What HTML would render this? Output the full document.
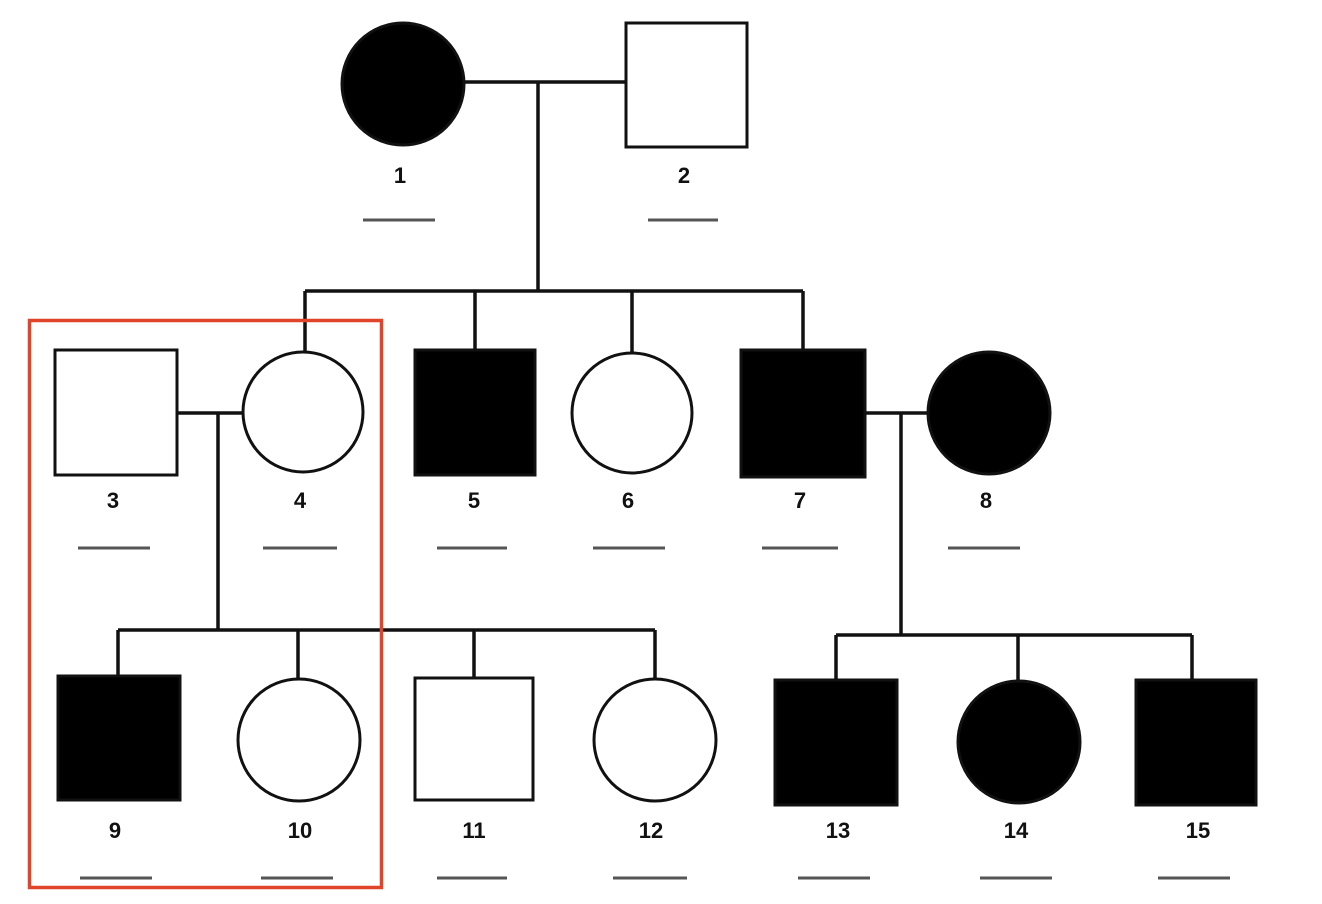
<!DOCTYPE html>
<html><head><style>html,body{margin:0;padding:0;background:#fff;}svg{display:block}</style></head>
<body>
<svg width="1322" height="904" viewBox="0 0 1322 904" xmlns="http://www.w3.org/2000/svg">
<rect x="0" y="0" width="1322" height="904" fill="#fff"/>
<g stroke="#111" stroke-width="3.5" fill="none">
<line x1="464" y1="82" x2="626" y2="82"/>
<line x1="538" y1="82" x2="538" y2="291"/>
<line x1="305" y1="291" x2="803" y2="291"/>
<line x1="305" y1="291" x2="305" y2="352"/>
<line x1="475" y1="291" x2="475" y2="352"/>
<line x1="632" y1="291" x2="632" y2="353"/>
<line x1="803" y1="291" x2="803" y2="352"/>
<line x1="177" y1="413" x2="243" y2="413"/>
<line x1="218" y1="413" x2="218" y2="630"/>
<line x1="865" y1="413" x2="928" y2="413"/>
<line x1="901" y1="413" x2="901" y2="635"/>
<line x1="118" y1="630" x2="655" y2="630"/>
<line x1="118" y1="630" x2="118" y2="677"/>
<line x1="298" y1="630" x2="298" y2="680"/>
<line x1="474" y1="630" x2="474" y2="679"/>
<line x1="655" y1="630" x2="655" y2="680"/>
<line x1="836" y1="635" x2="1192" y2="635"/>
<line x1="836" y1="635" x2="836" y2="681"/>
<line x1="1018" y1="635" x2="1018" y2="682"/>
<line x1="1192" y1="635" x2="1192" y2="681"/>
</g>
<g stroke="#111" stroke-width="3">
<circle cx="403" cy="84" r="61" fill="#000"/>
<rect x="626" y="23" width="121" height="124" fill="#fff"/>
<rect x="55" y="350" width="122" height="125" fill="#fff"/>
<circle cx="303" cy="412" r="60" fill="#fff"/>
<rect x="415" y="350" width="120" height="125" fill="#000"/>
<circle cx="632" cy="413" r="60" fill="#fff"/>
<rect x="741" y="350" width="124" height="127" fill="#000"/>
<circle cx="989" cy="413" r="61" fill="#000"/>
<rect x="58" y="676" width="122" height="124" fill="#000"/>
<circle cx="299" cy="740" r="61" fill="#fff"/>
<rect x="415" y="678" width="118" height="122" fill="#fff"/>
<circle cx="655" cy="740" r="61" fill="#fff"/>
<rect x="775" y="680" width="122" height="125" fill="#000"/>
<circle cx="1019" cy="742" r="61" fill="#000"/>
<rect x="1136" y="680" width="120" height="125" fill="#000"/>
</g>
<g font-family="Liberation Sans, sans-serif" font-weight="bold" font-size="22" fill="#111" text-anchor="middle">
<text x="400" y="183">1</text><text x="684" y="183">2</text>
<text x="113" y="508">3</text><text x="300" y="508">4</text><text x="474" y="508">5</text>
<text x="628" y="508">6</text><text x="800" y="508">7</text><text x="986" y="508">8</text>
<text x="115" y="838">9</text><text x="300" y="838">10</text><text x="474" y="838">11</text>
<text x="651" y="838">12</text><text x="838" y="838">13</text><text x="1016" y="838">14</text><text x="1198" y="838">15</text>
</g>
<g stroke="#555" stroke-width="3">
<line x1="363" y1="220" x2="435" y2="220"/><line x1="648" y1="220" x2="718" y2="220"/>
<line x1="78" y1="548" x2="150" y2="548"/><line x1="263" y1="548" x2="337" y2="548"/>
<line x1="437" y1="548" x2="507" y2="548"/><line x1="593" y1="548" x2="665" y2="548"/>
<line x1="762" y1="548" x2="838" y2="548"/><line x1="948" y1="548" x2="1020" y2="548"/>
<line x1="80" y1="878" x2="152" y2="878"/><line x1="261" y1="878" x2="333" y2="878"/>
<line x1="437" y1="878" x2="507" y2="878"/><line x1="613" y1="878" x2="687" y2="878"/>
<line x1="798" y1="878" x2="870" y2="878"/><line x1="980" y1="878" x2="1052" y2="878"/>
<line x1="1158" y1="878" x2="1230" y2="878"/>
</g>
<rect x="29.5" y="320.5" width="352" height="567" fill="none" stroke="#e0452b" stroke-width="3.5"/>
</svg>
</body></html>
